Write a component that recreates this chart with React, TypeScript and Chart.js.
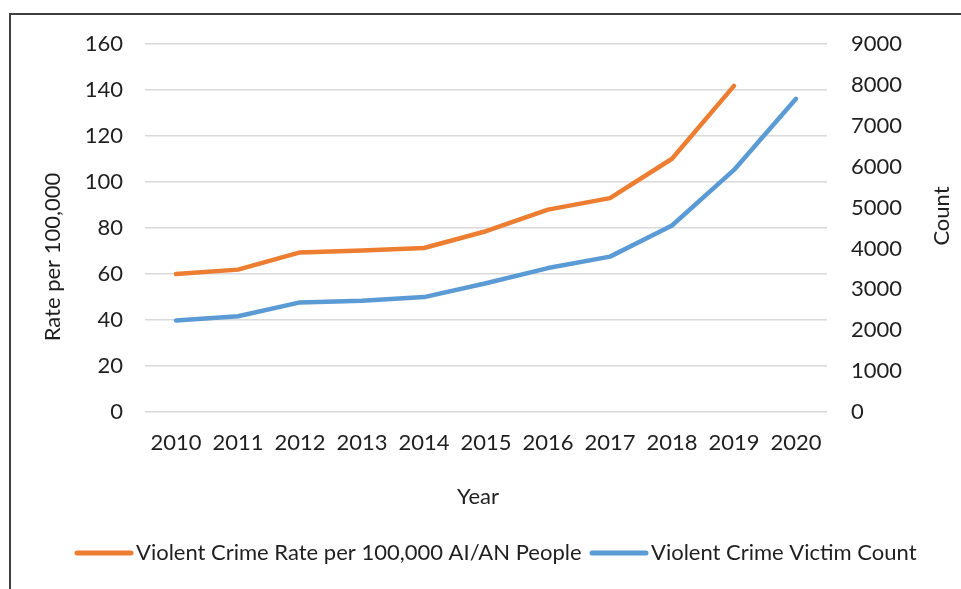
import React, { useEffect, useRef } from "react";
import { Chart, registerables } from "chart.js";

Chart.register(...registerables);

const years = ["2010", "2011", "2012", "2013", "2014", "2015", "2016", "2017", "2018", "2019", "2020"];
const rateValues: (number | null)[] = [60.0, 61.9, 69.4, 70.2, 71.3, 78.6, 88.0, 93.0, 110.1, 141.8, null];
const countValues: number[] = [2240, 2340, 2680, 2720, 2810, 3150, 3520, 3800, 4560, 5920, 7660];
const rateLabel = "Violent Crime Rate per 100,000 AI/AN People";
const countLabel = "Violent Crime Victim Count";
const leftTitle = "Rate per 100,000";
const rightTitle = "Count";
const xTitle = "Year";

const ORANGE = "#ED7D31";
const BLUE = "#5B9BD5";
const TEXT = "#1f1f1f";
const FONT_FAMILY = "Lato, 'DejaVu Sans', sans-serif";
const FONT_SIZE = 22;

const decorPlugin = {
  id: "decor",
  afterDraw(chart: any) {
    const ctx = chart.ctx as CanvasRenderingContext2D;
    ctx.save();
    // outer frame
    ctx.strokeStyle = "#404040";
    ctx.lineWidth = 2;
    ctx.strokeRect(10, 14, 1200, 1200);

    ctx.fillStyle = TEXT;
    ctx.font = `${FONT_SIZE}px ${FONT_FAMILY}`;
    ctx.textBaseline = "middle";
    ctx.textAlign = "center";

    // x title
    ctx.fillText(xTitle, 478, 497);

    // left title
    ctx.save();
    ctx.translate(53, 257);
    ctx.rotate(-Math.PI / 2);
    ctx.fillText(leftTitle, 0, 0);
    ctx.restore();

    // right title
    ctx.save();
    ctx.translate(942, 216);
    ctx.rotate(-Math.PI / 2);
    ctx.fillText(rightTitle, 0, 0);
    ctx.restore();

    // legend
    const items = [
      { label: rateLabel, color: ORANGE, x0: 77, x1: 131, tx: 136 },
      { label: countLabel, color: BLUE, x0: 592, x1: 646, tx: 651 },
    ];
    const ly = 553;
    ctx.textAlign = "left";
    ctx.lineCap = "round";
    for (const it of items) {
      ctx.strokeStyle = it.color;
      ctx.lineWidth = 5;
      ctx.beginPath();
      ctx.moveTo(it.x0, ly);
      ctx.lineTo(it.x1, ly);
      ctx.stroke();
      ctx.fillText(it.label, it.tx, ly);
    }
    ctx.restore();
  },
};

export default function App() {
  const canvasRef = useRef<HTMLCanvasElement | null>(null);

  useEffect(() => {
    if (!canvasRef.current) return;
    const chart = new Chart(canvasRef.current, {
      type: "line",
      data: {
        labels: years,
        datasets: [
          {
            label: rateLabel,
            data: rateValues,
            borderColor: ORANGE,
            backgroundColor: ORANGE,
            borderWidth: 4.5,
            pointRadius: 0,
            borderCapStyle: "round",
            borderJoinStyle: "round",
            tension: 0,
            yAxisID: "y",
            spanGaps: false,
          },
          {
            label: countLabel,
            data: countValues,
            borderColor: BLUE,
            backgroundColor: BLUE,
            borderWidth: 4.5,
            pointRadius: 0,
            borderCapStyle: "round",
            borderJoinStyle: "round",
            tension: 0,
            yAxisID: "y1",
          },
        ],
      },
      options: {
        responsive: false,
        animation: false,
        devicePixelRatio: 1,
        layout: { padding: { left: 0, right: 0, top: 44, bottom: 0 } },
        plugins: {
          legend: { display: false },
          tooltip: { enabled: false },
          title: { display: false },
        },
        scales: {
          x: {
            type: "category",
            offset: true,
            grid: { display: false, drawTicks: false },
            border: { display: false },
            ticks: {
              color: TEXT,
              font: { family: FONT_FAMILY, size: FONT_SIZE },
              padding: 18,
              maxRotation: 0,
              autoSkip: false,
            },
            afterFit: (scale: any) => {
              scale.height = 589 - 412;
            },
          },
          y: {
            position: "left",
            min: 0,
            max: 160,
            ticks: {
              stepSize: 20,
              color: TEXT,
              font: { family: FONT_FAMILY, size: FONT_SIZE },
              padding: 22,
              callback: (v: any) => String(v),
            },
            grid: { color: "#D9D9D9", lineWidth: 1.5, drawTicks: false },
            border: { display: false },
            afterFit: (scale: any) => {
              scale.width = 145;
            },
          },
          y1: {
            position: "right",
            min: 0,
            max: 9000,
            ticks: {
              stepSize: 1000,
              color: TEXT,
              font: { family: FONT_FAMILY, size: FONT_SIZE },
              padding: 24,
              callback: (v: any) => String(v),
            },
            grid: { display: false, drawTicks: false },
            border: { display: false },
            afterFit: (scale: any) => {
              scale.width = 961 - 827;
            },
          },
        },
      },
      plugins: [decorPlugin],
    });
    return () => chart.destroy();
  }, []);

  return (
    <div style={{ position: "absolute", left: 0, top: 0, width: 961, height: 589, background: "#fff" }}>
      <canvas ref={canvasRef} width={961} height={589} />
    </div>
  );
}
